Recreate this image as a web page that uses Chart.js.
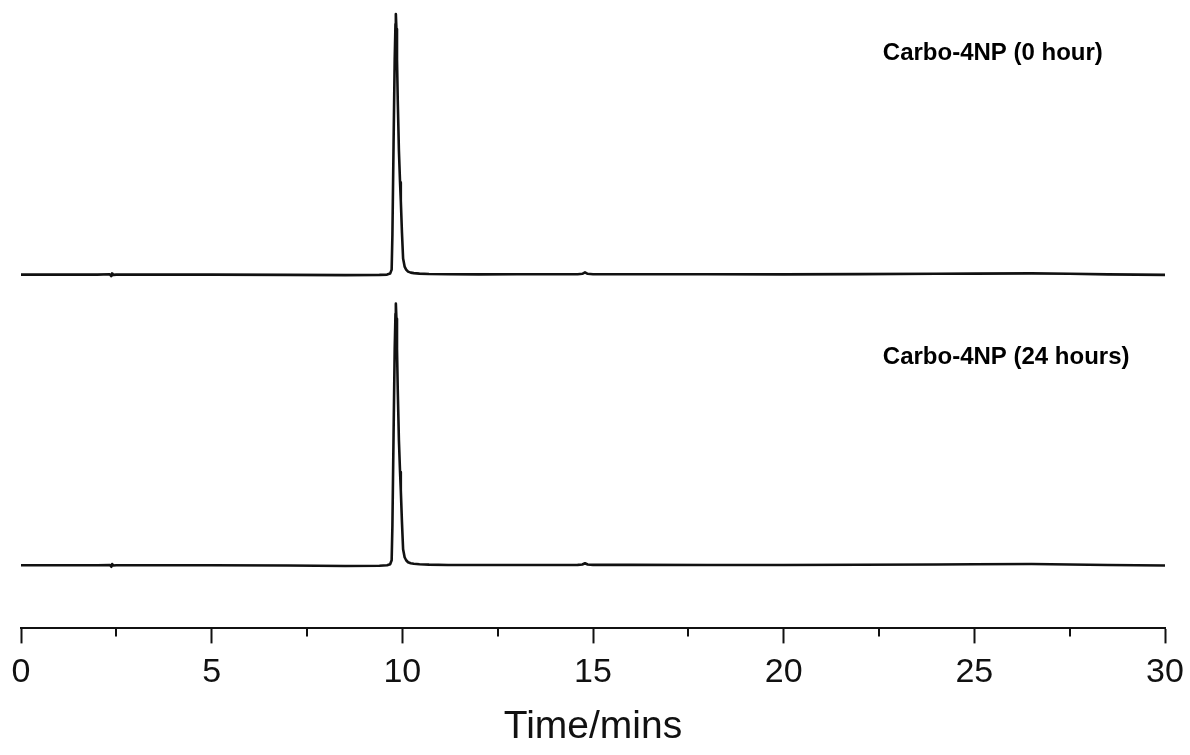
<!DOCTYPE html>
<html>
<head>
<meta charset="utf-8">
<script src="https://cdn.jsdelivr.net/npm/chart.js@4/dist/chart.umd.min.js"></script>
<style>
  html, body { margin: 0; padding: 0; background: #fff; }
  #wrap { width: 1190px; height: 755px; position: relative; }
</style>
</head>
<body>
<div id="wrap"><canvas id="c"></canvas></div>
<script>
// Retention time (min)
const timeMin = [0, 1, 2.0, 2.33, 2.37, 2.39, 2.42, 2.5, 3, 5, 7, 8.5, 9.4, 9.6, 9.68, 9.72, 9.74, 9.77, 9.80, 9.82, 9.83, 9.845, 9.86, 9.88, 9.91, 9.94, 9.96, 9.99, 10.02, 10.06, 10.1, 10.15, 10.22, 10.3, 10.45, 10.7, 11.2, 12, 13, 14.6, 14.72, 14.79, 14.86, 15.0, 16, 18, 20, 22, 24, 25, 26.5, 27.5, 28.5, 30];
// Detector signal (arbitrary units, relative to each trace's own baseline)
const signal0h = [0, 0, 0, 0.3, -1.5, 1.2, -0.3, 0, 0, 0, -0.3, -0.5, -0.3, 0, 1, 5, 40, 130, 215, 250, 260, 245, 215, 174, 124, 92, 74, 42, 16, 8, 5, 3, 2, 1.5, 1, 0.6, 0.3, 0.2, 0.3, 0.4, 0.8, 2.2, 0.8, 0.4, 0.4, 0.3, 0.2, 0.5, 0.8, 1.0, 1.2, 0.8, 0.2, -0.3];
const signal24h = [0, 0, 0, 0.3, -1.5, 1.2, -0.3, 0, 0, 0, -0.3, -0.8, -0.5, 0, 1, 5, 40, 130, 216, 251, 261, 246, 216, 175, 125, 93, 75, 43, 16, 8, 5, 3, 2, 1.5, 1, 0.6, 0.3, 0.2, 0.3, 0.4, 0.8, 2.0, 0.8, 0.4, 0.4, 0.3, 0.2, 0.5, 0.8, 1.0, 1.2, 0.8, 0.2, -0.3];
const traceLabels = ["Carbo-4NP (0 hour)", "Carbo-4NP (24 hours)"];
const xTicks = [0, 5, 10, 15, 20, 25, 30];
const xMinorTicks = [2.5, 7.5, 12.5, 17.5, 22.5, 27.5];

// vertical stacking offsets of the two traces
const offset0h = 353;
const offset24h = 63;

const toPts = (sig, off) => timeMin.map((t, i) => ({ x: t, y: sig[i] + off }));

const FONT = "'Liberation Sans', Arial, Helvetica, sans-serif";

const extras = {
  id: 'extras',
  afterDraw(chart) {
    const ctx = chart.ctx;
    const xs = chart.scales.x, ys = chart.scales.y;
    const bottom = chart.chartArea.bottom;
    ctx.save();
    ctx.strokeStyle = '#111';
    ctx.lineWidth = 2;
    xMinorTicks.forEach(v => {
      const px = Math.round(xs.getPixelForValue(v));
      ctx.beginPath();
      ctx.moveTo(px, bottom);
      ctx.lineTo(px, bottom + 8);
      ctx.stroke();
    });
    ctx.fillStyle = '#000';
    ctx.font = "bold 24px " + FONT;
    ctx.textBaseline = 'middle';
    ctx.textAlign = 'left';
    ctx.fillText(traceLabels[0], xs.getPixelForValue(22.6), ys.getPixelForValue(offset0h + 221));
    ctx.fillText(traceLabels[1], xs.getPixelForValue(22.6), ys.getPixelForValue(offset24h + 207));
    ctx.restore();
  }
};

new Chart(document.getElementById('c'), {
  type: 'line',
  data: {
    datasets: [
      { label: traceLabels[0], data: toPts(signal0h, offset0h), borderColor: '#111', borderWidth: 2.6, pointRadius: 0, tension: 0, borderJoinStyle: 'round', fill: false },
      { label: traceLabels[1], data: toPts(signal24h, offset24h), borderColor: '#111', borderWidth: 2.6, pointRadius: 0, tension: 0, borderJoinStyle: 'round', fill: false }
    ]
  },
  options: {
    responsive: true,
    maintainAspectRatio: false,
    animation: false,
    layout: { padding: { left: 21, right: 25, top: 7, bottom: 0 } },
    plugins: { legend: { display: false }, tooltip: { enabled: false } },
    scales: {
      x: {
        type: 'linear', min: 0, max: 30,
        afterBuildTicks: (s) => { s.ticks = xTicks.map(v => ({ value: v })); },
        afterFit: (s) => { s.paddingLeft = 0; s.paddingRight = 0; },
        ticks: { color: '#111', font: { family: FONT, size: 34 }, padding: 9, maxRotation: 0, autoSkip: false },
        grid: { display: true, drawOnChartArea: false, drawTicks: true, tickLength: 15, tickWidth: 2, tickColor: '#111' },
        border: { display: true, width: 2, color: '#111' },
        title: { display: true, text: 'Time/mins', color: '#111', font: { family: FONT, size: 39 }, padding: { top: 2, bottom: 4 } }
      },
      y: {
        display: false, min: 0, max: 620
      }
    }
  },
  plugins: [extras]
});
</script>
</body>
</html>
